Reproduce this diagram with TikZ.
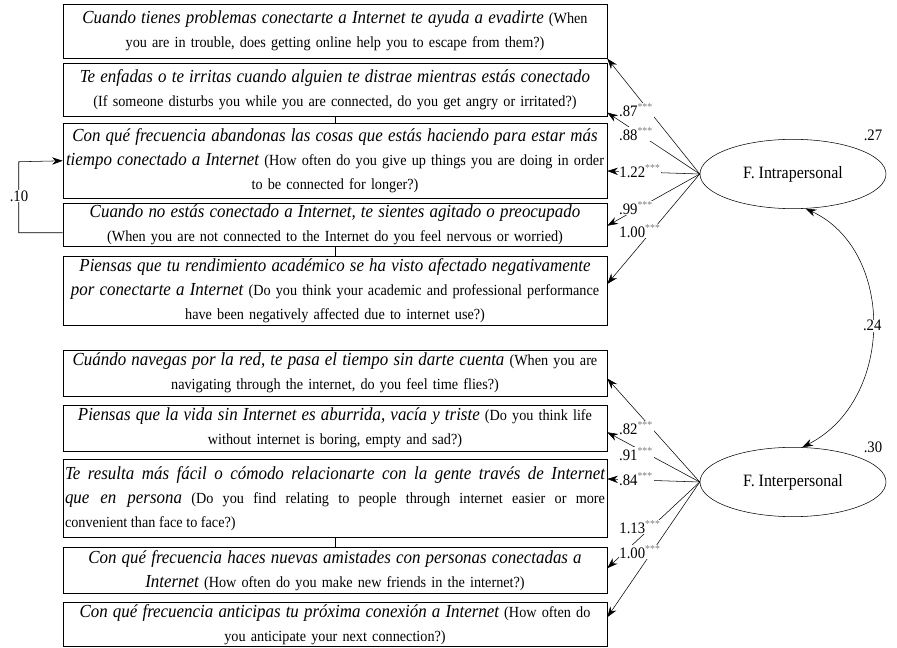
\documentclass[tikz,border=0pt]{standalone}
\usepackage{fontspec}
\setmainfont{Liberation Serif}[FakeStretch=0.92]
\usepackage{tikz}
\usetikzlibrary{shapes.geometric}
\usetikzlibrary{arrows.meta}
\usetikzlibrary{calc}

\newcommand{\es}[1]{{\fontsize{13.8pt}{18pt}\itshape\selectfont #1}}
\newcommand{\sig}[1]{#1\textsuperscript{\textcolor{gray}{***}}}

\begin{document}
\begin{tikzpicture}[x=0.75pt,y=0.75pt,yscale=-1,xscale=1,
  item/.style={draw, anchor=north, text width=405pt, align=center, inner xsep=1.5pt, inner ysep=0pt, font=\fontsize{11.6pt}{18pt}\selectfont},
  factor/.style={draw, ellipse, minimum width=139.5pt, minimum height=52pt, font=\fontsize{13pt}{15pt}\selectfont},
  coef/.style={fill=white, inner sep=0.6pt, font=\fontsize{12pt}{14pt}\selectfont},
  load/.style={-{Stealth[length=8pt,width=5.5pt]}},
  both/.style={{Stealth[length=8pt,width=5.5pt]}-{Stealth[length=8pt,width=5.5pt]}}]
\useasboundingbox (0,0) rectangle (897,648);

% items of the first factor
\node[item, minimum height=40.5pt] (q1) at (335,4) {\es{Cuando tienes problemas conectarte a Internet te ayuda a evadirte} (When\\ you are in trouble, does getting online help you to escape from them?)};
\node[item, minimum height=39.75pt] (q2) at (335,63) {\es{Te enfadas o te irritas cuando alguien te distrae mientras estás conectado}\\ (If someone disturbs you while you are connected, do you get angry or irritated?)};
\node[item, minimum height=56.25pt] (q3) at (335,123) {\es{Con qué frecuencia abandonas las cosas que estás haciendo para estar más}\\ \mbox{\es{tiempo conectado a Internet} (How often do you give up things you are doing in order}\\ to be connected for longer?)};
\node[item, minimum height=32.25pt] (q4) at (335,203) {\es{Cuando no estás conectado a Internet, te sientes agitado o preocupado}\\ (When you are not connected to the Internet do you feel nervous or worried)};
\node[item, minimum height=51.75pt] (q5) at (335,256) {\es{Piensas que tu rendimiento académico se ha visto afectado negativamente}\\ \mbox{\es{por conectarte a Internet} (Do you think your academic and professional performance}\\ have been negatively affected due to internet use?)};

% items of the second factor
\node[item, minimum height=34.5pt] (q6) at (335,350) {\es{Cuándo navegas por la red, te pasa el tiempo sin darte cuenta} (When you are\\ navigating through the internet, do you feel time flies?)};
\node[item, minimum height=34.5pt] (q7) at (335,405) {\es{Piensas que la vida sin Internet es aburrida, vacía y triste} (Do you think life\\ without internet is boring, empty and sad?)};
\node[item, align=justify, minimum height=58.5pt] (q8) at (335,459) {\es{Te resulta más fácil o cómodo relacionarte con la gente través de Internet}\linebreak \es{que en persona} (Do you find relating to people through internet easier or more\linebreak convenient than face to face?)};
\node[item, minimum height=34.5pt] (q9) at (335,547) {\es{Con qué frecuencia haces nuevas amistades con personas conectadas a}\\ \es{Internet} (How often do you make new friends in the internet?)};
\node[item, minimum height=33pt] (q10) at (335,602) {\es{Con qué frecuencia anticipas tu próxima conexión a Internet} (How often do\\ you anticipate your next connection?)};

\node[factor] (f1) at (793,174) {F. Intrapersonal};
\node[factor] (f2) at (793,482) {F. Interpersonal};

% loadings
\draw[load] (f1.west) -- (q1.south east);
\draw[load] (f1.west) -- ($(q2.south east)+(0,-4)$);
\draw[load] (f1.west) -- ($(f1.west -| q3.east)+(0,-3)$);
\draw[load] (f1.west) -- ($(q4.east)+(0,1)$);
\draw[load] (f1.west) -- ($(q5.north east)+(0,28)$);
\draw[load] (f2.west) -- ($(q6.south east)+(0,-18)$);
\draw[load] (f2.west) -- ($(q7.east)+(0,4)$);
\draw[load] (f2.west) -- ($(q8.north east)+(0,20)$);
\draw[load] (f2.west) -- ($(q9.east)+(0,-2)$);
\draw[load] (f2.west) -- ($(q10.east)+(0,-7)$);

\node[coef] (l1) at (636,110) {\sig{.87}};
\node[coef] (l2) at (636,134) {\sig{.88}};
\node[coef] (l3) at (640,171) {\sig{1.22}};
\node[coef] (l4) at (636,208) {\sig{.99}};
\node[coef] (l5) at (640,231) {\sig{1.00}};
\node[coef] (l6) at (636,428) {\sig{.82}};
\node[coef] (l7) at (636,454) {\sig{.91}};
\node[coef] (l8) at (636,479) {\sig{.84}};
\node[coef] (l9) at (640,527) {\sig{1.13}};
\node[coef] (l10) at (640,552) {\sig{1.00}};

% variances and covariances
\node[coef, fill=none] (v1) at (873,135) {.27};
\node[coef, fill=none] (v2) at (873,447) {.30};
\draw[both] (f1.290) .. controls (895,250) and (895,400) .. node[coef] (c12) {.24} (f2.75);

\coordinate (k3) at ($(q3.west)+(-44,1)$);
\draw[load] ($(q4.west)+(0,8)$) -| (k3) -- (q3.west);
\node[coef] (c34) at (19,196) {.10};
\draw (q2.south) -- (q3.north);
\draw (q4.south) -- (q5.north);
\draw (q8.south) -- (q9.north);

\end{tikzpicture}
\end{document}
